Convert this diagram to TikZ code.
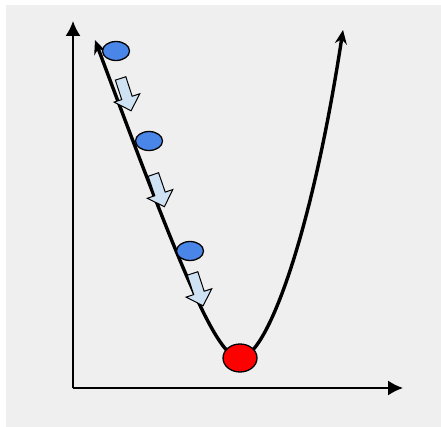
\documentclass[tikz,border=0pt]{standalone}
\usepackage{tikz}
\usetikzlibrary{arrows.meta,shapes.geometric,shapes.arrows}
\definecolor{panel}{HTML}{EFEFEF}
\definecolor{ballblue}{HTML}{4A86E8}
\definecolor{ballred}{HTML}{FF0000}
\definecolor{stepfill}{HTML}{CFE2F3}
\begin{document}
\begin{tikzpicture}[x=1pt,y=-1pt,
  axis/.style={line width=1.6pt,-{Latex[length=15pt,width=15pt]}},
  curve/.style={line width=3.4pt,{Stealth[length=14pt,width=12pt]}-{Stealth[length=14pt,width=12pt]}},
  ball/.style={ellipse,draw=black,line width=1.3pt,fill=ballblue,inner sep=0pt,minimum width=27pt,minimum height=19pt},
  minball/.style={ball,fill=ballred,minimum width=34pt,minimum height=28pt},
  stepdown/.style={single arrow,draw=black,line width=1pt,fill=stepfill,inner sep=5pt,minimum height=34pt,single arrow head extend=8pt}]
\useasboundingbox (0,0) rectangle (441,427);
\fill[panel] (6,5) rectangle (441,427);
% axes
\coordinate (origin) at (73,388);
\coordinate (ytop) at (73,21);
\coordinate (xend) at (403,388);
\draw[axis] (origin) -- (ytop);
\draw[axis] (origin) -- (xend);
% loss curve
\coordinate (lefttip) at (95,40);
\coordinate (bottom) at (240,358);
\coordinate (righttip) at (343,30);
\draw[curve] (lefttip) .. controls (178,262) and (216,359) .. (bottom) .. controls (265,358) and (310,245) .. (righttip);
% descent steps
\node[ball] (b1) at (116,51) {};
\node[ball] (b2) at (149,141) {};
\node[ball] (b3) at (190,251) {};
\node[stepdown,rotate=-72] (s1) at (125,92) {};
\node[stepdown,rotate=-71] (s2) at (158,188) {};
\node[stepdown,rotate=-72] (s3) at (197,287) {};
\node[minball] (minimum) at (bottom) {};
\end{tikzpicture}
\end{document}
